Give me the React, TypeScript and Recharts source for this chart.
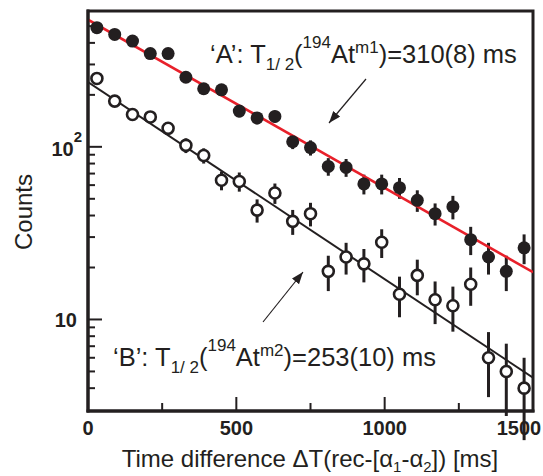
import React from 'react'
import { ComposedChart, Scatter, Line, XAxis, YAxis, ErrorBar } from 'recharts'

const ink = '#231f20'
const red = '#e8202a'
const font = '"Liberation Sans", Arial, Helvetica, sans-serif'

// time bins (ms) and counts
const times = [30, 90, 150, 210, 270, 330, 390, 450, 510, 570, 630, 690, 750, 810, 870, 930, 990, 1050, 1110, 1170, 1230, 1290, 1350, 1410, 1470]
const countsA = [490, 448, 410, 347, 347, 253, 217, 214, 161, 147, 150, 107, 99, 77, 76, 61, 61, 58, 49, 41, 45, 29, 23, 19, 26]
const errA = [22, 21, 20, 19, 19, 16, 15, 15, 13, 12, 12, 10, 10, 9, 9, 8, 8, 8, 7, 6, 7, 5.4, 4.8, 4.4, 5.1]
const countsB = [249, 184, 154, 149, 128, 102, 89, 64, 63, 43, 54, 37, 41, 19, 23, 21, 28, 14, 18, 13, 12, 16, 6, 5, 4]
const errB = [16, 14, 12, 12, 11, 10, 9, 8, 8, 6.6, 7.3, 6.1, 6.4, 4.4, 4.8, 4.6, 5.3, 3.7, 4.2, 3.6, 3.5, 4, 2.45, 2.24, 2]

// fitted decay lines (end points)
const fitX = [0, 1500]
const fitA = [545, 18.8]
const fitB = [237, 4.6]

const xTicks = [0, 250, 500, 750, 1000, 1250, 1500]
const xLabels = [0, 500, 1000, 1500]
const yTicks = [4, 5, 6, 7, 8, 9, 10, 20, 30, 40, 50, 60, 70, 80, 90, 100, 200, 300, 400, 500]

const seriesA = times.map((t, i) => ({ x: t, y: countsA[i], err: errA[i] }))
const seriesB = times.map((t, i) => ({ x: t, y: countsB[i], err: errB[i] }))
const lineA = fitX.map((t, i) => ({ x: t, y: fitA[i] }))
const lineB = fitX.map((t, i) => ({ x: t, y: fitB[i] }))

const XTick = (props: any) => {
  const { x, y, payload } = props
  const v = payload.value
  const major = xLabels.includes(v)
  return (
    <g>
      <line x1={x} x2={x} y1={y} y2={y - (major ? 14 : 8)} stroke={ink} strokeWidth={2} />
      {major && (
        <text x={v === 1500 ? x - 14 : x} y={y + 24} textAnchor="middle" fontSize={20} fontWeight="bold" fontFamily={font} fill={ink}>
          {v}
        </text>
      )}
    </g>
  )
}

const YTick = (props: any) => {
  const { x, y, payload } = props
  const v = payload.value
  const major = v === 10 || v === 100
  return (
    <g>
      <line x1={x} x2={x + (major ? 14 : 7)} y1={y} y2={y} stroke={ink} strokeWidth={2} />
      {v === 10 && (
        <text x={x - 11} y={y + 8} textAnchor="end" fontSize={20} fontWeight="bold" fontFamily={font} fill={ink}>10</text>
      )}
      {v === 100 && (
        <text x={x - 6} y={y + 9} textAnchor="end" fontSize={20} fontWeight="bold" fontFamily={font} fill={ink}>
          10<tspan dy={-14} fontSize={15}>2</tspan>
        </text>
      )}
    </g>
  )
}

const FilledDot = (p: any) => <circle cx={p.cx} cy={p.cy} r={6.5} fill={ink} />
const OpenDot = (p: any) => <circle cx={p.cx} cy={p.cy} r={5.5} fill="#fff" stroke={ink} strokeWidth={2.6} />

const Overlay = () => (
  <g fontFamily={font} fill={ink}>
    <defs>
      <marker id="arrowHead" markerUnits="userSpaceOnUse" markerWidth={13} markerHeight={10} refX={12} refY={4.5} orient="auto">
        <path d="M0,0 L12,4.5 L0,9 z" fill={ink} />
      </marker>
    </defs>
    <rect x={88} y={11} width={445} height={400} fill="none" stroke={ink} strokeWidth={3} />
    <text x={210} y={63} fontSize={25.5}>
      ‘A’: T<tspan fontSize={17} dy={7}>1/ 2</tspan><tspan dy={-7}>(</tspan><tspan fontSize={17} dy={-15}>194</tspan><tspan dy={15}>At</tspan><tspan fontSize={17} dy={-10}>m1</tspan><tspan dy={10}>)=310(8) ms</tspan>
    </text>
    <line x1={366} y1={79} x2={329} y2={123} stroke={ink} strokeWidth={1.2} markerEnd="url(#arrowHead)" />
    <text x={113} y={366} fontSize={25.5}>
      ‘B’: T<tspan fontSize={17} dy={7}>1/ 2</tspan><tspan dy={-7}>(</tspan><tspan fontSize={17} dy={-15}>194</tspan><tspan dy={15}>At</tspan><tspan fontSize={17} dy={-10}>m2</tspan><tspan dy={10}>)=253(10) ms</tspan>
    </text>
    <line x1={263} y1={322} x2={303} y2={272} stroke={ink} strokeWidth={1.2} markerEnd="url(#arrowHead)" />
    <text x={31.5} y={212} fontSize={24} textAnchor="middle" transform="rotate(-90, 31.5, 212)">Counts</text>
    <text x={310} y={467} fontSize={24} textAnchor="middle">
      Time difference ΔT(rec-[α<tspan fontSize={15} dy={5}>1</tspan><tspan dy={-5}>-α</tspan><tspan fontSize={15} dy={5}>2</tspan><tspan dy={-5}>]) [ms]</tspan>
    </text>
  </g>
)

const App = () => (
  <div style={{ position: 'absolute', left: 0, top: 0, background: '#fff' }}>
    <ComposedChart width={543} height={476} margin={{ top: 11, right: 10, bottom: 0, left: 0 }}>
      <XAxis
        type="number"
        dataKey="x"
        domain={[0, 1500]}
        ticks={xTicks}
        interval={0}
        allowDataOverflow
        height={65}
        tickSize={0}
        tickMargin={0}
        tickLine={false}
        tick={XTick}
        axisLine={{ stroke: ink, strokeWidth: 3, strokeLinecap: 'square' }}
      />
      <YAxis
        type="number"
        scale="log"
        domain={[2.95, 612]}
        ticks={yTicks}
        interval={0}
        allowDataOverflow
        width={88}
        tickSize={0}
        tickMargin={0}
        tickLine={false}
        tick={YTick}
        axisLine={{ stroke: ink, strokeWidth: 3, strokeLinecap: 'square' }}
      />
      <Scatter data={seriesA} dataKey="y" isAnimationActive={false} shape={FilledDot}>
        <ErrorBar dataKey="err" direction="y" width={0} strokeWidth={3} stroke={ink} />
      </Scatter>
      <Line data={lineA} dataKey="y" type="linear" stroke={red} strokeWidth={2.6} dot={false} activeDot={false} isAnimationActive={false} />
      <Line data={lineB} dataKey="y" type="linear" stroke={ink} strokeWidth={2} dot={false} activeDot={false} isAnimationActive={false} />
      <Scatter data={seriesB} dataKey="y" isAnimationActive={false} shape={OpenDot}>
        <ErrorBar dataKey="err" direction="y" width={0} strokeWidth={3} stroke={ink} />
      </Scatter>
      <Overlay />
    </ComposedChart>
  </div>
)

export default App
